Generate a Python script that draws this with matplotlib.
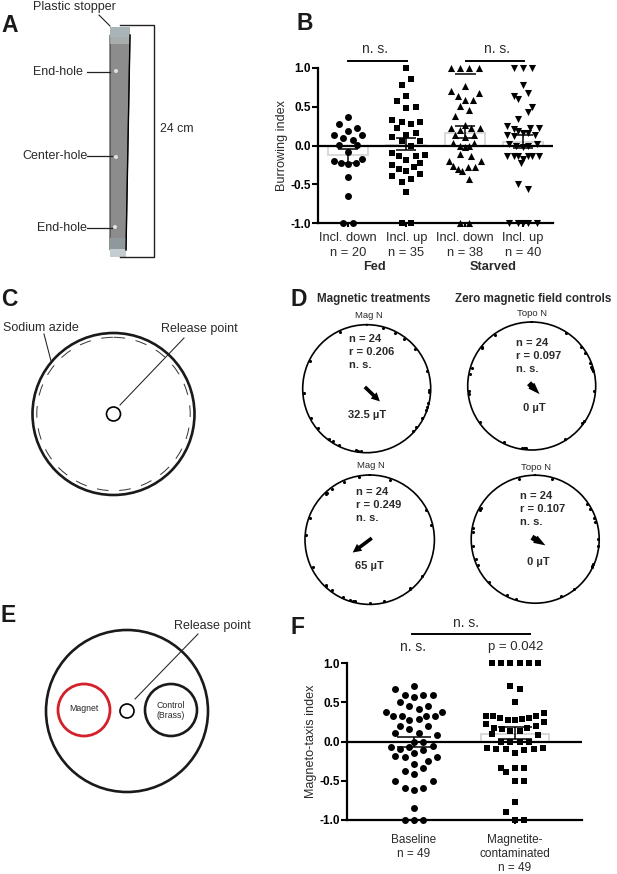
import numpy as np
import matplotlib
matplotlib.use('Agg')
import matplotlib.pyplot as plt
from matplotlib.patches import Circle, Rectangle, Polygon

plt.rcParams['font.family'] = ['Liberation Sans', 'DejaVu Sans']
W, H = 617, 874
TEXT = '#2a2a2a'

# Panel B: burrowing index, lanes are swarm slots around each category
b_labels = ['Incl. down\nn = 20', 'Incl. up\nn = 35', 'Incl. down\nn = 38', 'Incl. up\nn = 40']
fed_down = [.36, .28, .23, .19, .13, .13, .09, .07, .01, .01, -.08, -.17, -.2, -.23, -.22, -.24, -.4, -.65, -1, -1]
fed_down_lanes = [0, -2, 2, 0, -3, 3, -1, 1, -2, 2, 0, 3, -3, -1.6, 1.6, 0, 0, 0, -1, 1]
fed_up = [1, .86, .78, .64, .57, .5, .48, .33, .3, .3, .27, .23, .165, .135, .11, .06, .06, 0,
          -.1, -.125, -.13, -.14, -.185, -.22, -.25, -.27, -.3, -.33, -.37, -.39, -.43, -.47, -.6, -1, -1]
fed_up_lanes = [0, 1, -1, 0, -2, 2, 0, -3, -1, 3, 1, -2, 2, 0, -3, 3, -1, 1,
                -3, 4, -1.5, 2, 0, 3, -3, 1.7, -1.5, 0, 3, -3, 1, -1, 0, -1, 1]
starved_down = [1, 1, 1, 1, .77, .7, .67, .63, .59, .59, .51, .455, .38, .26, .22, .22, .22, .2, .135, .13, .115,
                .03, .03, -.01, -.01, -.02, -.115, -.14, -.195, -.195, -.26, -.27, -.28, -.3, -.33, -.43, -1, -1]
starved_down_lanes = [-3, -1, 1, 3, 0, -3, 3, -1.5, 0, 1.7, -1, 1, -2, 0, -3, 1.4, 3.3, -1, 2, -2, 0,
                      -2.5, 2, -1, 1, 0, -1, 1.4, -3.4, 3.5, -2.4, 2.3, .7, -1.5, -.6, 1, -1, 1]
starved_up = [1, 1, 1, .78, .67, .63, .6, .5, .43, .34, .25, .23, .22, .21, .18, .165, .165, .14, .13, .12,
              .02, .02, 0, 0, -.015, -.13, -.13, -.13, -.13, -.13, -.13, -.17, -.22, -.5, -.56, -1, -1, -1, -1, -1]
starved_up_lanes = [-2, 0, 2, 0, 1, -2, -1, 2, 1, -1, -3.5, 3.5, 1.6, -2, -1, 0, 1, -3.5, 2.5, -2,
                    -3, 3, -1.5, 1, 0, -3.5, -2, -1, 1, 2, 3.5, 0, -.5, -1, 1, -3, -1, 0, 1, 3]
b_means = [-.125, .01, .165, .05]
b_upper = [-.04, .09, .255, .14]
b_lower = [-.22, -.06, .09, -.03]

# Panel F: magneto-taxis index
f_labels = ['Baseline\nn = 49', 'Magnetite-\ncontaminated\nn = 49']
baseline = [.71, .67, .6, .6, .6, .565, .5, .45, .45, .41, .38, .38, .33, .33, .33, .33, .29, .28, .2, .2, .165, .11, .11, .08,
            0, 0, -.06, -.07, -.07, -.1, -.115, -.145, -.19, -.2, -.2, -.25, -.29, -.335, -.38, -.41, -.5, -.5, -.6, -.6,
            -.625, -.85, -1, -1, -1]
baseline_lanes = [0, -2, -1, 1, 2, 0, -1.5, -.5, 1.5, .5, -3, 3, -2.3, -1.3, 1.3, 2.3, .5, -.5, -1.5, 1.5, -.5, -2, .5, 2.5,
                  0, 1, 2, -2.5, -.5, -1.5, 1, 0, -2, -1, 2.5, 1.5, 0, 1, -1, 0, -2, 2, -1, 1,
                  0, 0, -1, 0, 1]
contaminated = [1, 1, 1, 1, 1, 1, .71, .67, .5, .37, .33, .33, .33, .305, .305, .285, .27, .27, .25, .22, .2, .175, .175,
                .165, .14, .14, .09, .085, 0, 0, 0, 0, -.085, -.085, -.095, -.095, -.1, -.115, -.147, -.335, -.335, -.335,
                -.385, -.5, -.5, -.78, -.9, -1, -1]
contaminated_lanes = [-2.5, -1.5, -.5, .5, 1.5, 2.5, -.5, .5, 0, 3.1, -3.1, -2.4, 2.3, -1.6, 1.5, .7, -.8, 0, 3.1, -3.1, 2.2,
                      -2.2, 1.3, -1.4, -.5, .5, -2.5, 2.5, -1.5, -.5, .5, 1.5, -3, 3, -2, 2, -1, 1, 0, -1.5, 0, 1,
                      -1, 0, 1, 0, -1, 0, 1]
f_means = [-.005, .09]
f_upper = [.06, .18]
f_lower = [-.07, .035]

# Panel D: headings in degrees clockwise from north
d_titles = ['Mag N', 'Topo N', 'Mag N', 'Topo N']
d_stats = ['n = 24\nr = 0.206\nn. s.', 'n = 24\nr = 0.097\nn. s.', 'n = 24\nr = 0.249\nn. s.', 'n = 24\nr = 0.107\nn. s.']
d_fields = ['32.5 µT', '0 µT', '65 µT', '0 µT']
d_r = [.206, .097, .249, .107]
d_mean_angle = [134, 136, 233, 121]
d_angles = [
    [335, 15, 27, 37, 51, 74, 91, 93, 103, 107, 110, 118, 128, 133, 185, 188, 190, 206, 213, 217, 231, 242, 266, 296],
    [324, 33, 52, 58, 68, 72, 74, 76, 95, 124, 126, 148, 185, 186, 187, 189, 206, 235, 263, 265, 281, 287, 307, 308],
    [350, 336, 323, 318, 317, 316, 290, 274, 19, 62, 77, 125, 141, 140, 167, 180, 193, 195, 198, 205, 217, 223, 224, 244],
    [345, 16, 56, 61, 70, 74, 90, 96, 116, 115, 113, 142, 156, 198, 207, 227, 246, 252, 264, 277, 280, 299, 300, 298],
]

fig = plt.figure(figsize=(W / 100, H / 100), dpi=100)


def px_axes(left, top, right, bottom, **kw):
    # axes from pixel edges, y measured down from the top of the picture
    return fig.add_axes([left / W, 1 - bottom / H, (right - left) / W, (bottom - top) / H], **kw)


# overlay in pixel coordinates for the drawn diagrams and free text
bg = fig.add_axes([0, 0, 1, 1])
bg.set_xlim(0, W)
bg.set_ylim(H, 0)
bg.axis('off')


def swarm(ax, pos, values, lanes, slot, marker, size):
    xs = pos + np.array(lanes) * slot
    ax.scatter(xs, values, marker=marker, s=size, c='k', linewidths=0, zorder=3, clip_on=False)


def finish_swarm(ax, labels, means, upper, lower, box_w, cap_w, ylabel, pad, fs, spacing):
    xs = np.arange(1, len(labels) + 1)
    ax.bar(xs, means, width=box_w, fill=False, edgecolor='#d6d6d6', linewidth=1.3, zorder=1)
    ax.vlines(xs, lower, upper, color='k', lw=1.1, zorder=4)
    ax.hlines(upper, xs - cap_w, xs + cap_w, color='k', lw=1.1, zorder=4)
    ax.hlines(lower, xs - cap_w, xs + cap_w, color='k', lw=1.1, zorder=4)
    ax.axhline(0, color='k', lw=1.6, zorder=2)
    ax.set_ylim(-1, 1)
    ax.set_yticks([-1, -.5, 0, .5, 1])
    ax.set_yticklabels(['-1.0', '-0.5', '0.0', '0.5', '1.0'], fontsize=8.5, fontweight='bold')
    ax.set_xticks(xs)
    ax.set_xticklabels(labels, fontsize=fs, color=TEXT, linespacing=spacing)
    ax.tick_params(axis='y', width=1.5, length=4.5, pad=1)
    ax.tick_params(axis='x', width=1.5, length=3, pad=pad)
    ax.set_ylabel(ylabel, fontsize=9.1, color=TEXT)
    ax.yaxis.set_label_coords(-.13, .5)
    for side in ['top', 'right']:
        ax.spines[side].set_visible(False)
    ax.spines['left'].set_linewidth(1.6)
    ax.spines['bottom'].set_linewidth(1.6)
    ax.patch.set_alpha(0)


# Panel B
ax_b = px_axes(318.3, 67.7, 552.7, 223.3)
ax_b.set_xlim(.49, 4.51)
slot_b = 14 / 175
swarm(ax_b, 1, fed_down, fed_down_lanes, slot_b, 'o', 25)
swarm(ax_b, 2, fed_up, fed_up_lanes, slot_b, 's', 22)
swarm(ax_b, 3, starved_down, starved_down_lanes, slot_b, '^', 26)
swarm(ax_b, 4, starved_up, starved_up_lanes, slot_b, 'v', 26)
finish_swarm(ax_b, b_labels, b_means, b_upper, b_lower, .686, .17, 'Burrowing index', 3.5, 9.3, 1.3)
ax_b.hlines(.92, 2.83, 3.19, color='k', lw=1.1, zorder=4)

# Panel F
ax_f = px_axes(347.3, 663.3, 581.7, 819.7)
ax_f.set_xlim(.34, 2.66)
slot_f = 28 / 303
swarm(ax_f, 1, baseline, baseline_lanes, slot_f, 'o', 25)
swarm(ax_f, 2, contaminated, contaminated_lanes, slot_f, 's', 22)
finish_swarm(ax_f, f_labels, f_means, f_upper, f_lower, .68, .165, 'Magneto-taxis index', 7, 8.5, 1.25)

# Panel D, one polar axes per circle
d_centres = [(366.7, 388.7, 64), (531.7, 386, 64), (369.7, 539.7, 64.7), (535.2, 539.2, 64)]
d_title_xy = [(368.7, 316), (532, 313.3), (371, 465.7), (535.7, 468)]
d_stats_xy = [(349, 333.5), (516, 338), (355.7, 487), (520, 491)]
d_field_xy = [(366.7, 414.7), (534.7, 408), (369.3, 565.7), (538, 561.7)]
for i, (cx, cy, rad) in enumerate(d_centres):
    ax = px_axes(cx - rad, cy - rad, cx + rad, cy + rad, projection='polar')
    ax.set_theta_zero_location('N')
    ax.set_theta_direction(-1)
    ax.set_ylim(0, 1)
    ax.set_xticks([])
    ax.set_yticks([])
    ax.grid(False)
    ax.spines['polar'].set_linewidth(1.2)
    ax.patch.set_alpha(0)
    ax.scatter(np.radians(d_angles[i]), np.full(24, .98), marker='o', s=5, c='k', linewidths=0, clip_on=False, zorder=3)
    angle = np.radians(d_mean_angle[i])
    if d_r[i] > .15:
        style = 'simple,head_length=.62,head_width=.62,tail_width=.26'
        start = .04
    else:
        style = 'simple,head_length=.85,head_width=.6,tail_width=.4'
        start = .06
    ax.annotate('', xy=(angle, d_r[i] + .08), xytext=(angle + np.pi, start),
                arrowprops=dict(arrowstyle=style, mutation_scale=10, fc='k', ec='k', lw=0, shrinkA=0, shrinkB=0))
    bg.text(*d_title_xy[i], d_titles[i], fontsize=6.8, color=TEXT, ha='center', va='center')
    bg.text(*d_stats_xy[i], d_stats[i], fontsize=8, fontweight='bold', color=TEXT, ha='left', va='top', linespacing=1.38)
    bg.text(*d_field_xy[i], d_fields[i], fontsize=8, fontweight='bold', color=TEXT, ha='center', va='center')

# Panel A: tube drawing
bg.add_patch(Polygon([(110, 35), (130, 35), (126, 250), (110, 250)], closed=True, fc='#8c8c8c', ec='#3a3a3a', lw=.8))
bg.plot([130, 126], [35, 250], color='k', lw=1)
bg.add_patch(Rectangle((110, 27), 20, 10, fc='#a9b4b9', ec='none'))
bg.add_patch(Rectangle((110, 37), 20, 7, fc='#b4bab8', ec='none', alpha=.7))
bg.add_patch(Rectangle((110, 238), 16, 12, fc='#8f989b', ec='none'))
bg.add_patch(Rectangle((110, 249), 16, 8, fc='#c4ccd0', ec='none'))
for hx, hy in [(116, 71), (116, 157), (115, 227)]:
    bg.add_patch(Circle((hx, hy), 2, fc='#e2e2e2', ec='none'))
bg.plot([120, 154, 154, 120], [25.3, 25.3, 257, 257], color='#222222', lw=1)
bg.plot([99, 110], [15, 26], color='#222222', lw=.8)
bg.plot([86.7, 110], [71.7, 71.7], color='#222222', lw=.9)
bg.plot([87, 111.7], [156.3, 156.3], color='#222222', lw=.9)
bg.plot([87, 111.7], [227.7, 227.7], color='#222222', lw=.9)
bg.text(74, 7, 'Plastic stopper', fontsize=9, color=TEXT, ha='center', va='center')
bg.text(58, 72, 'End-hole', fontsize=9, color=TEXT, ha='center', va='center')
bg.text(55, 156, 'Center-hole', fontsize=9, color=TEXT, ha='center', va='center')
bg.text(62, 228, 'End-hole', fontsize=9, color=TEXT, ha='center', va='center')
bg.text(177, 129, '24 cm', fontsize=8.9, color=TEXT, ha='center', va='center')

# Panel C
bg.add_patch(Circle((113.5, 414), 81, fill=False, ec='#1a1a1a', lw=1.9))
bg.add_patch(Circle((113.5, 414), 76.7, fill=False, ec='#333333', lw=.7, ls=(0, (12, 11))))
bg.add_patch(Circle((113.5, 414), 7, fill=False, ec='k', lw=1.2))
bg.plot([44, 51], [334, 361], color='#222222', lw=.75)
bg.plot([120, 184], [405, 338], color='#222222', lw=.75)
bg.text(41, 328, 'Sodium azide', fontsize=9, color=TEXT, ha='center', va='center')
bg.text(199, 329, 'Release point', fontsize=9, color=TEXT, ha='center', va='center')

# Panel E
bg.add_patch(Circle((127, 711), 81, fill=False, ec='#1a1a1a', lw=1.9))
bg.add_patch(Circle((84, 710), 26, fill=False, ec='#d4202a', lw=2))
bg.add_patch(Circle((171, 710), 26, fill=False, ec='#1a1a1a', lw=1.9))
bg.add_patch(Circle((127, 711), 7, fill=False, ec='k', lw=1.2))
bg.plot([135, 198], [699, 634], color='#222222', lw=.75)
bg.text(212.7, 626, 'Release point', fontsize=9, color=TEXT, ha='center', va='center')
bg.text(84, 708.3, 'Magnet', fontsize=6.3, color=TEXT, ha='center', va='center')
bg.text(170.5, 710.5, 'Control\n(Brass)', fontsize=6.3, color=TEXT, ha='center', va='center', linespacing=1.25)

# Panel letters and free text
for letter, lx, ly in [('A', 1, 25), ('B', 296, 23), ('C', 1, 299), ('D', 291, 299), ('E', 1, 615), ('F', 291, 627)]:
    bg.text(lx, ly, letter, fontsize=16.5, fontweight='bold', color='#1a1a1a', ha='left', va='center')
bg.text(375, 49, 'n. s.', fontsize=10, color=TEXT, ha='center', va='center')
bg.text(497, 49, 'n. s.', fontsize=10, color=TEXT, ha='center', va='center')
bg.plot([348, 406.7], [61.3, 61.3], color='k', lw=1.4)
bg.plot([466, 524], [61.3, 61.3], color='k', lw=1.4)
bg.text(375, 266.5, 'Fed', fontsize=9.2, fontweight='bold', color=TEXT, ha='center', va='center')
bg.text(493, 266.5, 'Starved', fontsize=9.2, fontweight='bold', color=TEXT, ha='center', va='center')
bg.text(373.5, 299, 'Magnetic treatments', fontsize=8.35, fontweight='bold', color=TEXT, ha='center', va='center')
bg.text(533.3, 299, 'Zero magnetic field controls', fontsize=8.35, fontweight='bold', color=TEXT, ha='center', va='center')
bg.text(466, 622.7, 'n. s.', fontsize=10, color=TEXT, ha='center', va='center')
bg.plot([411.7, 530], [633.7, 633.7], color='k', lw=1.4)
bg.text(412.7, 646.7, 'n. s.', fontsize=10, color=TEXT, ha='center', va='center')
bg.text(516, 646.7, 'p = 0.042', fontsize=9.5, color=TEXT, ha='center', va='center')

fig.savefig('out.png', dpi=100)
